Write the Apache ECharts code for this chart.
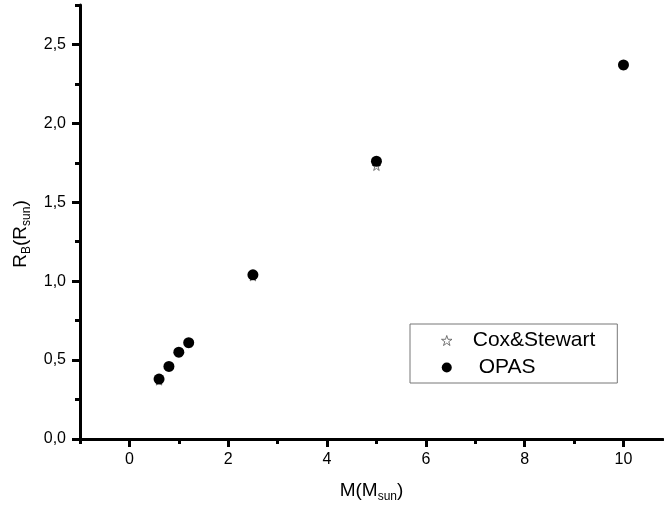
<!DOCTYPE html>
<html>
<head>
<meta charset="UTF-8">
<title></title>
<script src="https://cdn.jsdelivr.net/npm/echarts@6/dist/echarts.min.js"></script>
<style>
  html, body { margin: 0; padding: 0; background: #fff; }
</style>
</head>
<body>
<div id="main" style="width: 664px;height: 508px;"></div>
<script type="text/javascript">
// data
var masses = [0.6, 0.8, 1.0, 1.2, 2.5, 5, 10];
var radiiCox = [0.37, 0.46, 0.55, 0.61, 1.03, 1.73, 2.37];
var radiiOpas = [0.38, 0.46, 0.55, 0.61, 1.04, 1.76, 2.37];

var xMajorTicks = [0, 2, 4, 6, 8, 10];
var xMinorTicks = [-1, 1, 3, 5, 7, 9];
var yMajorTicks = [0, 0.5, 1.0, 1.5, 2.0, 2.5];
var yMinorTicks = [0.25, 0.75, 1.25, 1.75, 2.25, 2.75];

var starPath = 'path://M50,0 L61.8,36.2 L100,36.2 L69.1,58.8 L80.9,95.1 L50,72.7 L19.1,95.1 L30.9,58.8 L0,36.2 L38.2,36.2 Z';

function pairs(xs, ys) {
  var out = [];
  for (var i = 0; i < xs.length; i++) out.push([xs[i], ys[i]]);
  return out;
}

var myChart = echarts.init(document.getElementById('main'));
var font = 'Liberation Sans, Arial, sans-serif';
var nameRich = {
  n: { fontFamily: font, fontSize: 19, color: '#000' },
  s: { fontFamily: font, fontSize: 12, color: '#000', padding: [12, 0, 0, 0] }
};

var option = {
  backgroundColor: '#fff',
  animation: false,
  grid: { left: 80, right: 1, top: 5, bottom: 65 },
  legend: {
    left: 410, top: 324,
    orient: 'vertical',
    borderColor: '#777', borderWidth: 1,
    padding: [6, 22, 5, 31],
    itemGap: 6,
    itemWidth: 16, itemHeight: 10,
    textStyle: { fontFamily: font, fontSize: 21, color: '#000', padding: [0, 0, 0, 13] },
    data: [
      { name: 'Cox&Stewart', icon: starPath, itemStyle: { color: '#fff', borderColor: '#555', borderWidth: 1 } },
      { name: 'OPAS', icon: 'circle', itemStyle: { color: '#000' }, textStyle: { padding: [0, 0, 0, 19] } }
    ]
  },
  xAxis: [{
    type: 'value', min: -1, max: 10.8,
    name: '{n|M(M}{s|sun}{n|)}',
    nameLocation: 'middle', nameGap: 40,
    nameTextStyle: { rich: nameRich },
    axisLine: { onZero: false, lineStyle: { color: '#000', width: 3 } },
    axisTick: { customValues: xMajorTicks, length: 8, lineStyle: { color: '#000', width: 3 } },
    axisLabel: { customValues: xMajorTicks, margin: 13, fontFamily: font, fontSize: 16, color: '#000' },
    splitLine: { show: false }
  }, {
    type: 'value', min: -1, max: 10.8, position: 'bottom',
    axisLine: { show: false, onZero: false },
    axisTick: { customValues: xMinorTicks, length: 5, lineStyle: { color: '#000', width: 3 } },
    axisLabel: { show: false },
    splitLine: { show: false }
  }],
  yAxis: [{
    type: 'value', min: 0, max: 2.75,
    name: '{n|R}{s|B}{n|(R}{s|sun}{n|)}',
    nameLocation: 'middle', nameGap: 46,
    nameTextStyle: { rich: nameRich, padding: [0, 24, 0, 0] },
    axisLine: { onZero: false, lineStyle: { color: '#000', width: 3 } },
    axisTick: { customValues: yMajorTicks, length: 8, lineStyle: { color: '#000', width: 3 } },
    axisLabel: {
      customValues: yMajorTicks, margin: 14, fontFamily: font, fontSize: 16, color: '#000',
      formatter: function (v) { return v.toFixed(1).replace('.', ','); }
    },
    splitLine: { show: false }
  }, {
    type: 'value', min: 0, max: 2.75, position: 'left',
    axisLine: { show: false, onZero: false },
    axisTick: { customValues: yMinorTicks, length: 5, lineStyle: { color: '#000', width: 3 } },
    axisLabel: { show: false },
    splitLine: { show: false }
  }],
  series: [{
    name: 'Cox&Stewart',
    type: 'scatter',
    symbol: starPath,
    symbolSize: 9,
    itemStyle: { color: '#fff', borderColor: '#555', borderWidth: 1 },
    data: pairs(masses, radiiCox)
  }, {
    name: 'OPAS',
    type: 'scatter',
    symbol: 'circle',
    symbolSize: 11,
    itemStyle: { color: '#000', opacity: 1 },
    data: pairs(masses, radiiOpas)
  }]
};

myChart.setOption(option);
</script>
</body>
</html>
